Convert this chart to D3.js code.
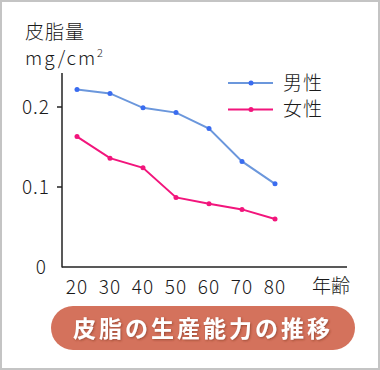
<!DOCTYPE html>
<html><head><meta charset="utf-8">
<script src="https://cdn.jsdelivr.net/npm/d3@7"></script>
<style>
html,body{margin:0;padding:0;background:#fff;}
svg{display:block;}
text{font-family:"Noto Sans CJK JP","Noto Sans",sans-serif;fill:#1a1a1a;}
.lt{font-weight:300;}
</style></head>
<body>
<script>
const ages = [20, 30, 40, 50, 60, 70, 80];
const male = [0.222, 0.217, 0.199, 0.193, 0.173, 0.132, 0.104];
const female = [0.163, 0.136, 0.124, 0.087, 0.079, 0.072, 0.060];
const yTicks = [0, 0.1, 0.2];
const yTickLabels = ["0", "0.1", "0.2"];
const seriesNames = ["男性", "女性"];
const colors = ["#6b97dc", "#f2157c"];
const dotColors = ["#3a6cf0", "#f2157c"];

const W = 380, H = 370;
const svg = d3.select("body").append("svg").attr("width", W).attr("height", H);
svg.append("rect").attr("x", 1).attr("y", 1).attr("width", W - 2).attr("height", H - 2)
  .attr("fill", "#fff").attr("stroke", "#c4c4c4").attr("stroke-width", 2);

const x = d3.scaleLinear().domain([20, 80]).range([77, 275]);
const y = d3.scaleLinear().domain([0, 0.2]).range([267, 107]);

// axes
svg.append("line").attr("x1", 62).attr("x2", 62).attr("y1", 73).attr("y2", 267.5)
  .attr("stroke", "#222").attr("stroke-width", 1.5);
svg.append("line").attr("x1", 62).attr("x2", 347).attr("y1", 267).attr("y2", 267)
  .attr("stroke", "#222").attr("stroke-width", 1.5);

yTicks.forEach((t, i) => {
  if (t > 0) svg.append("line").attr("x1", 57).attr("x2", 62).attr("y1", y(t)).attr("y2", y(t))
    .attr("stroke", "#222").attr("stroke-width", 1.5);
  svg.append("text").attr("class", "lt").attr("x", i === 0 ? 47 : 50).attr("y", y(t)).attr("dy", "0.36em")
    .attr("text-anchor", "end").attr("font-size", 19).attr("letter-spacing", 1).text(yTickLabels[i]);
});

ages.forEach(a => {
  svg.append("text").attr("class", "lt").attr("x", x(a)).attr("y", 294).attr("text-anchor", "middle")
    .attr("font-size", 19).attr("letter-spacing", 1).text(a);
});
svg.append("text").attr("class", "lt").attr("x", 312).attr("y", 293).attr("font-size", 19).text("年齢");

svg.append("text").attr("class", "lt").attr("x", 25).attr("y", 39).attr("font-size", 19).attr("letter-spacing", 1).text("皮脂量");
const unit = svg.append("text").attr("class", "lt").attr("x", 25).attr("y", 65).attr("font-size", 19).attr("letter-spacing", 2);
unit.append("tspan").text("mg/cm");
unit.append("tspan").attr("font-size", 11).attr("dy", -8).text("2");

const line = d3.line().x((d, i) => x(ages[i])).y(d => y(d));
[male, female].forEach((s, k) => {
  svg.append("path").attr("d", line(s)).attr("fill", "none")
    .attr("stroke", colors[k]).attr("stroke-width", 2);
  svg.selectAll(null).data(s).enter().append("circle")
    .attr("cx", (d, i) => x(ages[i])).attr("cy", d => y(d)).attr("r", 2.5)
    .attr("fill", dotColors[k]);
});

// legend
seriesNames.forEach((n, k) => {
  const ly = 83 + k * 26.5;
  svg.append("line").attr("x1", 228).attr("x2", 273).attr("y1", ly).attr("y2", ly)
    .attr("stroke", colors[k]).attr("stroke-width", 2);
  svg.append("circle").attr("cx", 251).attr("cy", ly).attr("r", 2.5).attr("fill", dotColors[k]);
  svg.append("text").attr("class", "lt").attr("x", 283).attr("y", ly).attr("dy", "0.36em").attr("font-size", 19)
    .attr("letter-spacing", 1).text(n);
});

// title pill
const defs = svg.append("defs");
const f = defs.append("filter").attr("id", "sh").attr("x", "-10%").attr("y", "-30%").attr("width", "120%").attr("height", "160%");
f.append("feDropShadow").attr("dx", 1).attr("dy", 1).attr("stdDeviation", 0.8).attr("flood-color", "#7a3020").attr("flood-opacity", 0.6);
svg.append("rect").attr("x", 51).attr("y", 306).attr("width", 304).attr("height", 44).attr("rx", 22)
  .attr("fill", "#d4725c");
svg.append("text").attr("x", 203).attr("y", 329).attr("dy", "0.36em").attr("text-anchor", "middle")
  .attr("font-size", 23).attr("font-weight", "bold").attr("letter-spacing", 3)
  .attr("filter", "url(#sh)").style("fill", "#fff").text("皮脂の生産能力の推移");
</script>
</body></html>
